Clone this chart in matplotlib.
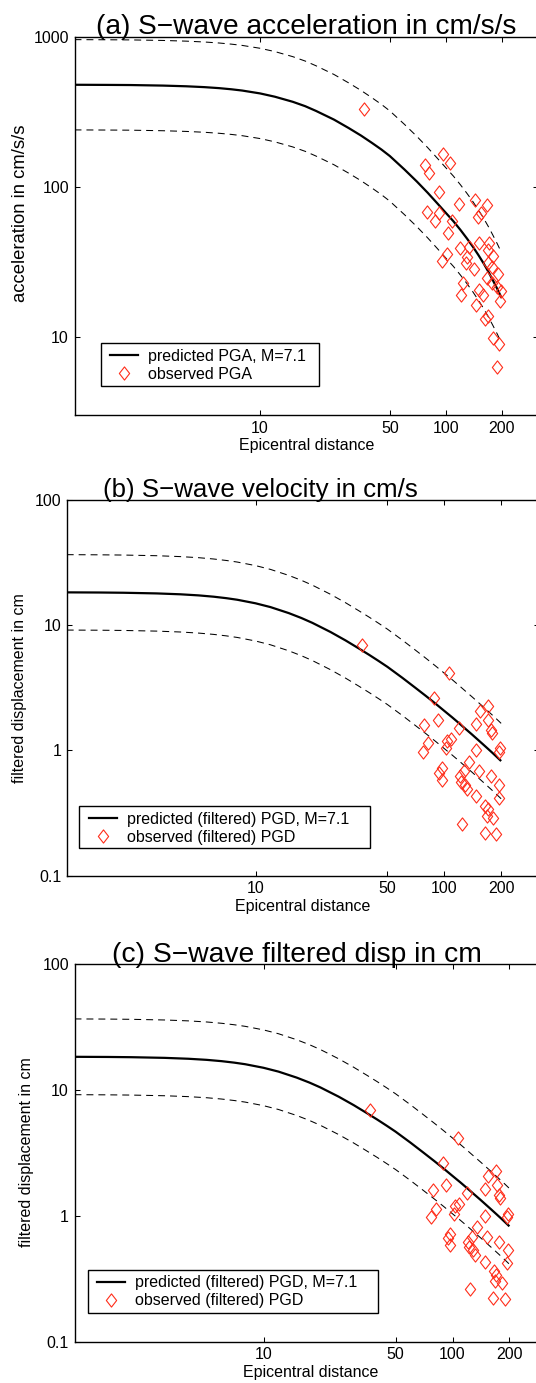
import matplotlib
matplotlib.use('Agg')
import matplotlib.pyplot as plt
from matplotlib.path import Path
from matplotlib.lines import Line2D
from matplotlib.patches import Rectangle
from matplotlib.ticker import NullLocator, FixedLocator, FixedFormatter

plt.rcParams['font.family'] = ['Liberation Sans', 'DejaVu Sans']
plt.rcParams['lines.scale_dashes'] = False

W, H, DPI = 536, 1383, 100

# ---------------- data ----------------
dist_curve = [1, 1.5, 2, 3, 4, 5, 6, 7, 8, 10, 12, 15, 17.5, 20, 25, 30, 35, 40, 45, 50,
              60, 70, 80, 90, 100, 110, 120, 130, 140, 150, 160, 170, 180, 190, 200]

pga_pred = [478, 477, 476, 472, 467, 461, 454, 446, 437.5, 418.5, 398, 368, 344, 320, 280, 246, 219, 196, 177, 160,
            130, 108, 91, 77.5, 67, 58.8, 51.5, 45.2, 39.8, 35.0, 30.8, 27.0, 23.6, 20.7, 18.1]
pga_upper = [956, 954, 952, 944, 934, 922, 908, 892, 875, 837, 796, 736, 688, 640, 560, 492, 438, 392, 354, 320,
             260, 216, 182, 155, 134, 117.6, 103, 90.4, 79.6, 70.0, 61.6, 54.0, 47.2, 41.4, 36.2]
pga_lower = [239, 238.5, 238, 236, 233.5, 230.5, 227, 223, 218.75, 209.25, 199, 184, 172, 160, 140, 123, 109.5, 98, 88.5, 80,
             65, 54, 45.5, 38.75, 33.5, 29.4, 25.75, 22.6, 19.9, 17.5, 15.4, 13.5, 11.8, 10.35, 9.05]

pgd_pred = [18.3, 18.25, 18.17, 17.95, 17.66, 17.31, 16.9, 16.45, 15.98, 14.97, 13.96, 12.5, 11.42, 10.45, 8.82, 7.56, 6.57, 5.8, 5.17, 4.65,
            3.80, 3.18, 2.72, 2.36, 2.07, 1.84, 1.645, 1.48, 1.344, 1.225, 1.123, 1.034, 0.956, 0.886, 0.823]
pgd_upper = [36.6, 36.5, 36.34, 35.9, 35.32, 34.62, 33.8, 32.9, 31.96, 29.94, 27.92, 25.0, 22.84, 20.9, 17.64, 15.12, 13.14, 11.6, 10.34, 9.3,
             7.6, 6.36, 5.44, 4.72, 4.14, 3.68, 3.29, 2.96, 2.688, 2.45, 2.246, 2.068, 1.912, 1.772, 1.646]
pgd_lower = [9.15, 9.125, 9.085, 8.975, 8.83, 8.655, 8.45, 8.225, 7.99, 7.485, 6.98, 6.25, 5.71, 5.225, 4.41, 3.78, 3.285, 2.9, 2.585, 2.325,
             1.9, 1.59, 1.36, 1.18, 1.035, 0.92, 0.8225, 0.74, 0.672, 0.6125, 0.5615, 0.517, 0.478, 0.443, 0.4115]

pga_obs_dist = [36.5, 96.7, 106, 77, 81.7, 92.4, 143.7, 167, 118, 79, 91.5, 87.5, 107.5, 148.7, 154.6,
                103.4, 119.2, 132.8, 151.5, 171, 101, 96, 130.4, 128.3, 142.8, 169, 179.9, 170, 178, 192.5,
                167.6, 178, 188, 199, 195.5, 124.4, 121, 151.5, 159, 145, 163.3, 168.5, 180, 194.7, 188]
pga_obs = [328, 164, 144.6, 139.6, 123, 92.6, 81.5, 75.5, 76.5, 67.5, 67.1, 59, 59.3, 63, 67,
           49.4, 39.2, 39.4, 41.9, 42.4, 35.6, 32.1, 33.8, 30.8, 28.3, 37.8, 34.7, 30.8, 29, 26.2,
           24.5, 22.7, 21.5, 20, 17.3, 22.9, 19, 20.5, 18.8, 16.3, 13.1, 13.7, 9.85, 8.9, 6.3]

pgd_obs_dist = [36.6, 106.4, 88.7, 155, 170, 148, 171, 177, 178, 92.4, 78.5, 120, 82.2, 77, 103.5,
                108, 101.5, 148, 197.6, 194, 134.6, 152, 177, 196, 97.3, 94.3, 97.3, 120.6, 126.5, 123,
                129, 132, 148, 165, 170, 168.5, 182, 194, 124, 164, 189]
pgd_obs = [6.9, 4.15, 2.6, 2.06, 2.27, 1.64, 1.75, 1.47, 1.37, 1.75, 1.59, 1.52, 1.14, 0.97, 1.19,
           1.23, 1.04, 1.0, 1.04, 0.97, 0.81, 0.68, 0.62, 0.53, 0.72, 0.66, 0.58, 0.62, 0.68, 0.56,
           0.53, 0.49, 0.43, 0.36, 0.34, 0.30, 0.29, 0.42, 0.26, 0.22, 0.216]

xtick_vals = [10, 50, 100, 200]
xtick_labels = ['10', '50', '100', '200']

panels = [
    dict(title='(a) S\u2212wave acceleration in cm/s/s', ylabel='acceleration in cm/s/s',
         pred=pga_pred, upper=pga_upper, lower=pga_lower, od=pga_obs_dist, ov=pga_obs,
         ylim=(3.0, 1000), yticks=[10, 100, 1000], ytl=['10', '100', '1000'],
         lab_pred='predicted PGA, M=7.1', lab_obs='observed PGA'),
    dict(title='(b) S\u2212wave velocity in cm/s', ylabel='filtered displacement in cm',
         pred=pgd_pred, upper=pgd_upper, lower=pgd_lower, od=pgd_obs_dist, ov=pgd_obs,
         ylim=(0.1, 100), yticks=[0.1, 1, 10, 100], ytl=['0.1', '1', '10', '100'],
         lab_pred='predicted (filtered) PGD, M=7.1', lab_obs='observed (filtered) PGD'),
    dict(title='(c) S\u2212wave filtered disp in cm', ylabel='filtered displacement in cm',
         pred=pgd_pred, upper=pgd_upper, lower=pgd_lower, od=pgd_obs_dist, ov=pgd_obs,
         ylim=(0.1, 100), yticks=[0.1, 1, 10, 100], ytl=['0.1', '1', '10', '100'],
         lab_pred='predicted (filtered) PGD, M=7.1', lab_obs='observed (filtered) PGD'),
]

# layout in pixels: (left, right, top, bottom)
boxes = [(74.5, 538.5, 36.7, 415.0), (66.7, 538.7, 500.0, 875.7), (74.5, 547.0, 964.0, 1341.5)]
title_x = [(306.5, 'center', 20.2), (103.3, 'left', 18.6), (111.7, 'left', 20.3)]
ylab = [(21, 213, 13.3), (20, 688, 11.5), (27, 1152.5, 11.5)]
leg_anchor = [(110, 365.3), (89.3, 828.3), (97.4, 1291.7)]
leg_frame = [(100.8, 319.5, 342.7, 386.0), (79.3, 370.0, 805.7, 848.3), (87.8, 377.6, 1270.0, 1313.0)]

RED = '#ff2d1a'
diamond = Path([(0, 1), (0.78, 0), (0, -1), (-0.78, 0), (0, 1)],
               [Path.MOVETO, Path.LINETO, Path.LINETO, Path.LINETO, Path.CLOSEPOLY])

FS = 11.5
fig = plt.figure(figsize=(W / DPI, H / DPI), dpi=DPI)

def fx(px):
    return px / W

def fy(py):
    return 1 - py / H

for p, (l, r, t, b), (tx, tha, tfs), (yx, yy, yfs), la, lf in zip(panels, boxes, title_x, ylab, leg_anchor, leg_frame):
    ax = fig.add_axes([fx(l), fy(b), (r - l) / W, (b - t) / H])
    ax.set_xscale('log')
    ax.set_yscale('log')
    ax.set_xlim(1, 10 ** 2.5)
    ax.set_ylim(*p['ylim'])
    ax.plot(dist_curve, p['upper'], color='black', lw=0.75, dashes=(5, 3.6))
    ax.plot(dist_curve, p['lower'], color='black', lw=0.75, dashes=(5, 3.6))
    ax.plot(dist_curve, p['pred'], color='black', lw=1.6, solid_capstyle='butt')
    ax.plot(p['od'], p['ov'], linestyle='none', marker=diamond, markersize=9.5,
            markerfacecolor='none', markeredgecolor=RED, markeredgewidth=0.8)
    ax.xaxis.set_major_locator(FixedLocator(xtick_vals))
    ax.xaxis.set_major_formatter(FixedFormatter(xtick_labels))
    ax.xaxis.set_minor_locator(NullLocator())
    ax.yaxis.set_major_locator(FixedLocator(p['yticks']))
    ax.yaxis.set_major_formatter(FixedFormatter(p['ytl']))
    ax.yaxis.set_minor_locator(NullLocator())
    ax.tick_params(which='both', direction='in', top=True, right=True, length=3.6, width=0.75,
                   labelsize=FS, pad=4.0)
    for s in ax.spines.values():
        s.set_linewidth(1.0)
    ax.set_xlabel('Epicentral distance', fontsize=FS)
    ax.xaxis.label.set_va('center')
    ax.xaxis.set_label_coords(0.5, -31.0 / (b - t))
    fig.text(fx(yx), fy(yy), p['ylabel'], rotation=90, ha='center', va='center', fontsize=yfs)
    fig.text(fx(tx), fy(t - 2.5), p['title'], ha=tha, va='baseline', fontsize=tfs)
    # legend
    h1 = Line2D([], [], color='black', lw=1.6)
    h2 = Line2D([], [], linestyle='none', marker=diamond, markersize=9.5, markerfacecolor='none',
                markeredgecolor=RED, markeredgewidth=0.8)
    leg = ax.legend([h1, h2], [p['lab_pred'], p['lab_obs']], loc='center left',
                    bbox_to_anchor=(fx(la[0]), fy(la[1])), bbox_transform=fig.transFigure,
                    frameon=False, fontsize=FS, handlelength=1.75, handletextpad=0.6,
                    borderpad=0, borderaxespad=0, labelspacing=0.2, numpoints=1)
    leg.set_zorder(6)
    fl, fr, ft, fb = lf
    ax.add_patch(Rectangle((fx(fl), fy(fb)), (fr - fl) / W, (fb - ft) / H,
                           transform=fig.transFigure, facecolor='white', edgecolor='black',
                           lw=1.0, zorder=4, clip_on=False))

fig.savefig('out.png', dpi=DPI)
